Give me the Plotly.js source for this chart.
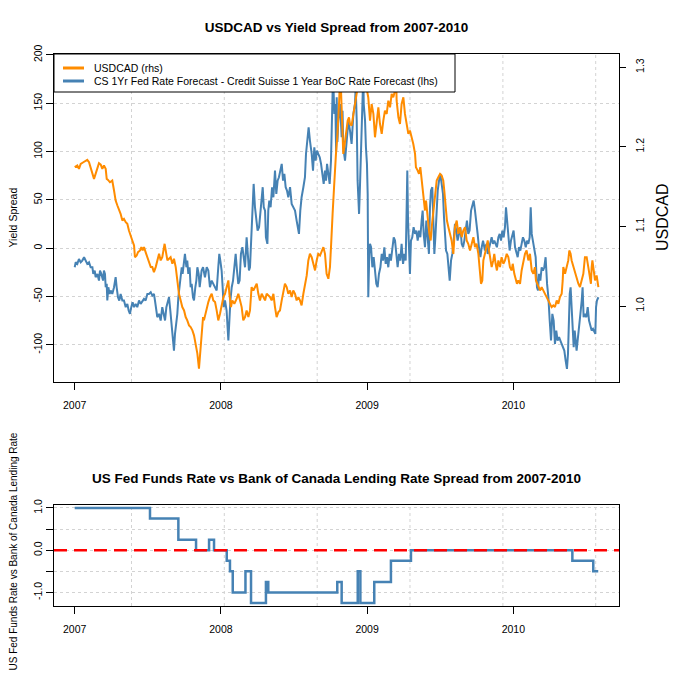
<!DOCTYPE html>
<html><head><meta charset="utf-8">
<script src="https://cdn.plot.ly/plotly-3.0.1.min.js"></script>
<style>html,body{margin:0;padding:0;background:#fff;}#chart{width:673px;height:673px;}</style>
</head><body><div id="chart"></div>
<script>
// ---------- data ----------
const YEAR_TICKS = [2007, 2008, 2009, 2010];
const YEAR_LABELS = ['2007', '2008', '2009', '2010'];
const GRID_X = [2007.3885, 2008.0233, 2008.6587, 2009.2934, 2009.9289, 2010.5636];
const SPREAD_TICKS = [-100, -50, 0, 50, 100, 150, 200];
const SPREAD_LABELS = ['-100', '-50', '0', '50', '100', '150', '200'];
const USDCAD_TICKS = [1.0, 1.1, 1.2, 1.3];
const USDCAD_LABELS = ['1.0', '1.1', '1.2', '1.3'];
const RATE_TICKS = [-1, -0.5, 0, 0.5, 1];
const RATE_LABELS = ['-1.0', '', '0.0', '', '1.0'];
const RATE_ZERO = 0;

const USDCAD_X = [
2007.000,2007.018,2007.029,2007.041,2007.059,2007.075,2007.086,2007.098,2007.109,2007.121,
2007.132,2007.143,2007.155,2007.166,2007.178,2007.189,2007.200,2007.212,2007.219,2007.228,
2007.241,2007.257,2007.269,2007.280,2007.292,2007.303,2007.314,2007.326,2007.337,2007.349,
2007.360,2007.371,2007.383,2007.394,2007.406,2007.412,2007.424,2007.433,2007.447,2007.456,
2007.465,2007.474,2007.485,2007.497,2007.508,2007.520,2007.531,2007.542,2007.554,2007.565,
2007.577,2007.588,2007.599,2007.615,2007.624,2007.634,2007.645,2007.656,2007.668,2007.679,
2007.691,2007.697,2007.707,2007.713,2007.725,2007.736,2007.748,2007.759,2007.770,2007.782,
2007.793,2007.805,2007.816,2007.827,2007.839,2007.850,2007.862,2007.868,2007.878,2007.884,
2007.896,2007.905,2007.914,2007.925,2007.937,2007.948,2007.960,2007.971,2007.982,2007.994,
2008.005,2008.017,2008.028,2008.039,2008.051,2008.058,2008.069,2008.078,2008.092,2008.108,
2008.119,2008.131,2008.142,2008.153,2008.165,2008.176,2008.188,2008.199,2008.210,2008.222,
2008.233,2008.245,2008.256,2008.267,2008.279,2008.290,2008.302,2008.313,2008.324,2008.336,
2008.347,2008.359,2008.370,2008.381,2008.393,2008.404,2008.416,2008.427,2008.438,2008.450,
2008.461,2008.473,2008.484,2008.495,2008.507,2008.518,2008.530,2008.541,2008.552,2008.564,
2008.575,2008.587,2008.598,2008.609,2008.621,2008.632,2008.644,2008.655,2008.666,2008.678,
2008.689,2008.701,2008.712,2008.723,2008.735,2008.746,2008.753,2008.758,2008.764,2008.774,
2008.780,2008.787,2008.796,2008.803,2008.808,2008.817,2008.826,2008.837,2008.844,2008.853,
2008.867,2008.876,2008.883,2008.894,2008.906,2008.917,2008.929,2008.940,2008.963,2008.986,
2009.008,2009.020,2009.031,2009.043,2009.054,2009.065,2009.077,2009.088,2009.100,2009.111,
2009.122,2009.134,2009.145,2009.157,2009.168,2009.179,2009.191,2009.198,2009.202,2009.214,
2009.225,2009.236,2009.248,2009.259,2009.271,2009.282,2009.293,2009.305,2009.316,2009.328,
2009.334,2009.346,2009.355,2009.364,2009.373,2009.382,2009.389,2009.396,2009.403,2009.410,
2009.419,2009.426,2009.435,2009.442,2009.453,2009.464,2009.476,2009.487,2009.499,2009.510,
2009.521,2009.528,2009.537,2009.546,2009.556,2009.567,2009.578,2009.590,2009.601,2009.613,
2009.624,2009.635,2009.647,2009.658,2009.670,2009.681,2009.692,2009.704,2009.715,2009.727,
2009.738,2009.749,2009.761,2009.768,2009.779,2009.788,2009.795,2009.806,2009.818,2009.825,
2009.834,2009.841,2009.852,2009.863,2009.870,2009.879,2009.888,2009.898,2009.909,2009.920,
2009.932,2009.943,2009.955,2009.966,2009.977,2009.989,2009.996,2010.007,2010.016,2010.025,
2010.034,2010.046,2010.057,2010.069,2010.080,2010.091,2010.103,2010.114,2010.126,2010.137,
2010.148,2010.155,2010.164,2010.171,2010.183,2010.194,2010.205,2010.217,2010.228,2010.240,
2010.251,2010.262,2010.274,2010.285,2010.297,2010.308,2010.319,2010.331,2010.338,2010.342,
2010.354,2010.365,2010.376,2010.383,2010.392,2010.399,2010.411,2010.422,2010.433,2010.445,
2010.456,2010.468,2010.479,2010.490,2010.502,2010.513,2010.525,2010.531,2010.536,2010.541,
2010.550,2010.559,2010.570,2010.582];
const USDCAD_Y = [
1.1744,1.1765,1.1723,1.1785,1.1806,1.1827,1.1836,1.1806,1.1744,1.1681,
1.1597,1.1660,1.1744,1.1794,1.1777,1.1723,1.1765,1.1723,1.1597,1.1585,
1.1555,1.1576,1.1451,1.1325,1.1263,1.1221,1.1158,1.1074,1.1095,1.1054,
1.1033,1.0949,1.0865,1.0824,1.0761,1.0614,1.0635,1.0677,1.0698,1.0740,
1.0698,1.0740,1.0677,1.0614,1.0552,1.0489,1.0489,1.0426,1.0489,1.0573,
1.0656,1.0573,1.0614,1.0782,1.0698,1.0573,1.0594,1.0614,1.0531,1.0594,
1.0489,1.0405,1.0280,1.0154,1.0071,0.9987,0.9945,0.9862,0.9820,0.9757,
0.9736,0.9694,0.9632,0.9527,0.9402,0.9213,0.9485,0.9694,0.9862,0.9820,
0.9924,0.9987,1.0050,1.0112,1.0154,1.0071,1.0050,0.9945,0.9820,0.9903,
0.9987,1.0112,1.0154,1.0238,1.0322,1.0154,0.9987,1.0071,1.0029,1.0092,
1.0154,1.0071,0.9987,0.9820,0.9862,0.9945,0.9862,0.9945,1.0238,1.0196,
1.0238,1.0280,1.0154,1.0071,1.0154,1.0112,1.0071,1.0154,1.0133,1.0112,
1.0071,1.0154,0.9987,0.9862,0.9924,0.9945,1.0071,1.0196,1.0280,1.0238,
1.0154,1.0196,1.0112,1.0196,1.0154,1.0071,1.0112,1.0071,1.0008,1.0154,
1.0280,1.0384,1.0573,1.0656,1.0614,1.0531,1.0447,1.0573,1.0656,1.0635,
1.0698,1.0740,1.0656,1.0405,1.0343,1.0489,1.0740,1.0991,1.1158,1.1493,
1.1744,1.1911,1.2120,1.2329,1.2538,1.2950,1.2455,1.1911,1.1995,1.2120,
1.2329,1.2371,1.2287,1.2266,1.2413,1.2580,1.2664,1.2800,1.2900,1.2850,
1.2620,1.2329,1.2538,1.2413,1.2120,1.2329,1.2496,1.2287,1.2162,1.2329,
1.2455,1.2413,1.2580,1.2496,1.2664,1.2622,1.2706,1.2950,1.2580,1.2371,
1.2287,1.2538,1.2622,1.2413,1.2245,1.2162,1.2204,1.2120,1.2036,1.1911,
1.1744,1.1702,1.1660,1.1744,1.1576,1.1451,1.1242,1.1200,1.1325,1.1158,
1.1033,1.0907,1.0824,1.0991,1.1200,1.1409,1.1576,1.1618,1.1660,1.1639,
1.1576,1.1451,1.1200,1.1074,1.0991,1.0907,1.0824,1.0656,1.0991,1.1074,
1.0907,1.0991,1.0865,1.0949,1.0991,1.0824,1.0782,1.0698,1.0782,1.0865,
1.0740,1.0782,1.0656,1.0489,1.0280,1.0322,1.0573,1.0656,1.0740,1.0824,
1.0698,1.0614,1.0489,1.0573,1.0656,1.0531,1.0447,1.0573,1.0489,1.0614,
1.0531,1.0573,1.0656,1.0614,1.0489,1.0447,1.0531,1.0405,1.0322,1.0280,
1.0322,1.0280,1.0447,1.0573,1.0656,1.0698,1.0573,1.0656,1.0447,1.0405,
1.0489,1.0322,1.0280,1.0238,1.0196,1.0238,1.0196,1.0154,1.0112,1.0071,
1.0029,0.9987,1.0008,0.9987,1.0071,1.0029,1.0112,1.0154,1.0322,1.0489,
1.0405,1.0489,1.0573,1.0698,1.0656,1.0573,1.0489,1.0405,1.0363,1.0280,
1.0238,1.0322,1.0405,1.0614,1.0614,1.0489,1.0322,1.0280,1.0489,1.0573,
1.0447,1.0322,1.0384,1.0238];

const SPREAD_X = [
2007.000,2007.007,2007.018,2007.029,2007.041,2007.052,2007.064,2007.075,2007.086,2007.098,
2007.109,2007.121,2007.127,2007.137,2007.143,2007.155,2007.166,2007.173,2007.182,2007.194,
2007.200,2007.207,2007.212,2007.219,2007.223,2007.230,2007.239,2007.246,2007.257,2007.269,
2007.280,2007.287,2007.296,2007.305,2007.314,2007.326,2007.337,2007.349,2007.360,2007.369,
2007.378,2007.387,2007.396,2007.406,2007.417,2007.428,2007.440,2007.451,2007.463,2007.474,
2007.485,2007.497,2007.508,2007.520,2007.531,2007.542,2007.549,2007.558,2007.565,2007.577,
2007.588,2007.599,2007.611,2007.618,2007.627,2007.636,2007.645,2007.654,2007.663,2007.670,
2007.679,2007.686,2007.693,2007.702,2007.709,2007.716,2007.725,2007.732,2007.738,2007.748,
2007.754,2007.764,2007.770,2007.777,2007.786,2007.793,2007.800,2007.809,2007.816,2007.825,
2007.832,2007.839,2007.848,2007.855,2007.862,2007.868,2007.878,2007.884,2007.891,2007.903,
2007.914,2007.925,2007.937,2007.948,2007.960,2007.971,2007.982,2007.989,2007.996,2008.005,
2008.012,2008.019,2008.028,2008.039,2008.051,2008.058,2008.065,2008.074,2008.083,2008.092,
2008.101,2008.110,2008.119,2008.128,2008.137,2008.147,2008.156,2008.165,2008.176,2008.183,
2008.192,2008.199,2008.206,2008.215,2008.224,2008.233,2008.242,2008.251,2008.261,2008.270,
2008.279,2008.286,2008.293,2008.302,2008.308,2008.318,2008.324,2008.331,2008.340,2008.350,
2008.359,2008.370,2008.379,2008.388,2008.397,2008.407,2008.416,2008.425,2008.434,2008.443,
2008.452,2008.461,2008.473,2008.484,2008.495,2008.507,2008.518,2008.525,2008.534,2008.543,
2008.552,2008.564,2008.575,2008.582,2008.591,2008.600,2008.609,2008.621,2008.630,2008.639,
2008.648,2008.657,2008.666,2008.676,2008.685,2008.694,2008.703,2008.712,2008.719,2008.726,
2008.735,2008.744,2008.753,2008.760,2008.767,2008.776,2008.783,2008.788,2008.792,2008.797,
2008.803,2008.815,2008.826,2008.832,2008.837,2008.849,2008.860,2008.872,2008.883,2008.894,
2008.906,2008.917,2008.922,2008.929,2008.935,2008.945,2008.951,2008.958,2008.963,2008.970,
2008.974,2008.977,2008.986,2008.992,2008.999,2009.004,2009.008,2009.015,2009.020,2009.027,
2009.036,2009.045,2009.054,2009.063,2009.072,2009.081,2009.091,2009.100,2009.109,2009.118,
2009.127,2009.136,2009.145,2009.154,2009.163,2009.173,2009.182,2009.191,2009.200,2009.209,
2009.218,2009.227,2009.236,2009.246,2009.255,2009.264,2009.271,2009.275,2009.280,2009.287,
2009.293,2009.300,2009.309,2009.318,2009.328,2009.337,2009.346,2009.355,2009.364,2009.373,
2009.380,2009.387,2009.396,2009.405,2009.414,2009.423,2009.430,2009.437,2009.446,2009.453,
2009.460,2009.467,2009.474,2009.483,2009.492,2009.501,2009.510,2009.519,2009.526,2009.533,
2009.540,2009.549,2009.556,2009.565,2009.574,2009.583,2009.592,2009.601,2009.610,2009.619,
2009.629,2009.638,2009.647,2009.656,2009.665,2009.674,2009.683,2009.692,2009.701,2009.711,
2009.720,2009.729,2009.738,2009.747,2009.756,2009.765,2009.775,2009.784,2009.793,2009.806,
2009.816,2009.825,2009.834,2009.843,2009.852,2009.861,2009.870,2009.879,2009.888,2009.898,
2009.907,2009.916,2009.925,2009.934,2009.943,2009.950,2009.957,2009.966,2009.975,2009.984,
2009.993,2010.002,2010.012,2010.021,2010.030,2010.039,2010.048,2010.057,2010.066,2010.075,
2010.085,2010.094,2010.103,2010.112,2010.119,2010.126,2010.135,2010.144,2010.153,2010.162,
2010.169,2010.176,2010.185,2010.194,2010.203,2010.212,2010.221,2010.231,2010.240,2010.249,
2010.258,2010.267,2010.276,2010.285,2010.294,2010.303,2010.313,2010.322,2010.331,2010.340,
2010.349,2010.358,2010.367,2010.374,2010.381,2010.386,2010.392,2010.399,2010.406,2010.413,
2010.420,2010.427,2010.433,2010.440,2010.449,2010.459,2010.468,2010.474,2010.481,2010.490,
2010.500,2010.509,2010.518,2010.527,2010.536,2010.545,2010.554,2010.561,2010.566,2010.572,
2010.582];
const SPREAD_Y = [
-19.7,-14.5,-16.2,-11.1,-14.5,-12.8,-9.3,-12.8,-16.2,-14.5,
-19.7,-19.7,-26.6,-23.1,-30.0,-26.6,-33.5,-23.1,-26.6,-33.5,
-23.1,-26.6,-40.4,-36.9,-54.1,-40.4,-47.3,-43.8,-47.3,-40.4,
-30.0,-40.4,-50.7,-54.1,-47.3,-54.1,-54.1,-61.0,-57.6,-64.5,
-67.9,-61.0,-55.9,-61.0,-57.6,-61.0,-54.1,-57.6,-54.1,-52.4,
-54.1,-47.3,-47.3,-45.5,-49.0,-47.3,-54.1,-64.5,-71.4,-67.9,
-74.8,-61.0,-67.9,-74.8,-61.0,-54.1,-50.7,-64.5,-81.7,-95.5,
-105.9,-88.6,-81.7,-67.9,-50.7,-40.4,-30.0,-19.7,-26.6,-9.3,
-5.9,-19.7,-12.8,-26.6,-19.7,-40.4,-36.9,-50.7,-54.1,-40.4,
-33.5,-19.7,-26.6,-40.4,-33.5,-23.1,-19.7,-26.6,-30.0,-19.7,
-23.1,-40.4,-33.5,-36.9,-40.4,-43.8,-19.7,-5.9,-12.8,-23.1,
-40.4,-61.0,-54.1,-64.5,-95.5,-67.9,-54.1,-40.4,-33.5,-19.7,
-5.9,-23.1,-36.9,-33.5,-5.9,1.0,-12.8,-19.7,11.3,-2.4,
-23.1,-19.7,7.9,35.5,66.5,42.4,32.0,18.2,21.7,38.9,
49.3,63.1,42.4,38.9,11.3,4.5,38.9,49.3,42.4,63.1,
52.7,80.3,56.2,69.9,73.4,80.3,87.2,69.9,76.8,63.1,
59.6,52.7,63.1,45.8,42.4,38.9,28.6,21.7,14.8,38.9,
52.7,63.1,73.4,97.5,114.8,125.1,111.3,97.5,80.3,104.4,
90.6,101.0,97.5,94.1,87.2,76.8,66.5,80.3,69.9,87.2,
76.8,66.5,90.6,152.7,180.2,138.9,149.2,100.0,156.1,110.0,
132.0,149.2,114.8,142.3,104.4,90.6,114.8,132.0,121.7,107.9,
138.9,149.2,166.5,132.0,69.9,35.5,63.1,97.5,132.0,156.1,
180.2,149.2,132.0,104.4,87.2,56.2,-50.7,-5.9,4.5,1.0,
-19.7,-9.3,-26.6,-36.9,-40.4,-26.6,-19.7,-5.9,-12.8,1.0,
-16.2,-9.3,-19.7,-5.9,-12.8,1.0,11.3,7.9,-5.9,-19.7,
-5.9,-12.8,4.5,-16.2,-5.9,-12.8,45.8,80.3,28.6,-19.7,
-26.6,7.9,11.3,21.7,14.8,18.2,7.9,18.2,11.3,28.6,
38.9,14.8,1.0,28.6,7.9,-5.9,42.4,59.6,63.1,21.7,
-5.9,11.3,42.4,59.6,69.9,76.8,66.5,56.2,32.0,7.9,
-2.4,-5.9,-19.7,-33.5,-12.8,-5.9,7.9,25.1,18.2,7.9,
14.8,21.7,4.5,1.0,7.9,21.7,28.6,14.8,18.2,38.9,
45.8,49.3,38.9,28.6,14.8,1.0,-9.3,1.0,7.9,-2.4,
4.5,-5.9,1.0,7.9,11.3,4.5,7.9,4.5,1.0,11.3,
14.8,7.9,18.2,11.3,21.7,42.4,28.6,7.9,-2.4,7.9,
14.8,18.2,1.0,-5.9,-9.3,1.0,-2.4,4.5,11.3,7.9,
1.0,7.9,4.5,11.3,42.4,14.8,7.9,1.0,-9.3,-40.4,
-43.8,-26.6,-33.5,-19.7,-23.1,-19.7,-9.3,-36.9,-50.7,-74.8,
-95.5,-67.9,-74.8,-99.0,-85.2,-95.5,-92.1,-95.5,-99.0,-102.4,
-105.9,-116.2,-124.8,-109.3,-61.0,-47.3,-40.4,-61.0,-92.1,-102.4,
-85.2,-99.0,-105.9,-95.5,-85.2,-67.9,-54.1,-40.4,-71.4,-67.9,
-71.4,-61.0,-74.8,-81.7,-85.2,-83.5,-86.9,-88.6,-61.0,-54.1,
-50.7];

const RATE_X = [2007.000, 2007.515, 2007.709, 2007.830, 2007.919, 2007.953, 2008.040, 2008.062, 2008.081,
  2008.168, 2008.206, 2008.308, 2008.324, 2008.796, 2008.826, 2008.936, 2008.954, 2009.049, 2009.163,
  2009.300, 2010.404, 2010.547, 2010.581];
const RATE_Y = [1.0, 0.75, 0.25, 0.0, 0.25, 0.0, -0.25, -0.5, -1.0,
  -0.5, -1.25, -0.75, -1.0, -0.75, -1.25, -0.5, -1.25, -0.75, -0.25,
  0.0, -0.25, -0.5, -0.5];

const NAME_USDCAD = 'USDCAD (rhs)';
const NAME_SPREAD = 'CS 1Yr Fed Rate Forecast - Credit Suisse 1 Year BoC Rate Forecast (lhs)';
const COLOR_USDCAD = '#FF8C00';
const COLOR_SPREAD = '#4682B4';

// ---------- layout helpers ----------
const FONT = 'Liberation Sans, Arial, Helvetica, sans-serif';
const W = 673, H = 673;
const M = {l: 54, r: 54, t: 54, b: 67};
const PH = H - M.t - M.b, PW = W - M.l - M.r;
const py = p => (H - M.b - p) / PH;   // pixel row -> paper y
const px = p => (p - M.l) / PW;       // pixel col -> paper x
const X_RANGE = [2006.8584, 2010.7230];

const axisBase = {
  showline: true, mirror: true, linecolor: '#000', linewidth: 1,
  ticks: 'outside', tickcolor: '#000', tickwidth: 1, zeroline: false,
  tickfont: {family: FONT, size: 10.5, color: '#000'}, fixedrange: true
};
const gridStyle = {showgrid: true, gridcolor: '#d3d3d3', gridwidth: 1, griddash: 'dot'};

const traces = [
  {x: SPREAD_X, y: SPREAD_Y, xaxis: 'x', yaxis: 'y', type: 'scatter', mode: 'lines',
   name: NAME_SPREAD, line: {color: COLOR_SPREAD, width: 2}, showlegend: false},
  {x: USDCAD_X, y: USDCAD_Y, xaxis: 'x', yaxis: 'y3', type: 'scatter', mode: 'lines',
   name: NAME_USDCAD, line: {color: COLOR_USDCAD, width: 2}, showlegend: false},
  {x: RATE_X, y: RATE_Y, xaxis: 'x2', yaxis: 'y2', type: 'scatter', mode: 'lines',
   line: {color: COLOR_SPREAD, width: 2.5, shape: 'hv'}, showlegend: false}
];

const shapes = [];
GRID_X.forEach(g => {
  shapes.push({type: 'line', xref: 'x', yref: 'y domain', x0: g, x1: g, y0: 0, y1: 1, layer: 'below',
    line: {color: '#d3d3d3', width: 1, dash: 'dot'}});
  shapes.push({type: 'line', xref: 'x2', yref: 'y2 domain', x0: g, x1: g, y0: 0, y1: 1, layer: 'below',
    line: {color: '#d3d3d3', width: 1, dash: 'dot'}});
});
shapes.push({type: 'line', xref: 'x2 domain', yref: 'y2', x0: 0, x1: 1, y0: RATE_ZERO, y1: RATE_ZERO,
  layer: 'above', line: {color: '#ff0000', width: 2.5, dash: '13px,7px'}});

// compact R-style legend box (top-left of the upper panel)
const LEGEND = [{name: NAME_USDCAD, color: COLOR_USDCAD, row: 68}, {name: NAME_SPREAD, color: COLOR_SPREAD, row: 81}];
shapes.push({type: 'rect', xref: 'paper', yref: 'paper', x0: px(54), x1: px(455), y0: py(92), y1: py(54),
  layer: 'above', fillcolor: '#fff', line: {color: '#000', width: 1}});
const annotations = [];
LEGEND.forEach(it => {
  shapes.push({type: 'line', xref: 'paper', yref: 'paper', x0: px(63), x1: px(84), y0: py(it.row), y1: py(it.row),
    layer: 'above', line: {color: it.color, width: 3}});
  annotations.push({text: it.name, xref: 'paper', yref: 'paper', x: px(92), y: py(it.row), xanchor: 'left',
    yanchor: 'middle', showarrow: false, font: {family: FONT, size: 10.5, color: '#000'}});
});

annotations.push(
  {text: '<b>US Fed Funds Rate vs Bank of Canada Lending Rate Spread from 2007-2010</b>',
   xref: 'paper', yref: 'paper', x: 0.5, y: py(478), xanchor: 'center', yanchor: 'middle',
   showarrow: false, font: {family: FONT, size: 13.5, color: '#000'}},
  {text: 'Yield Spread', xref: 'paper', yref: 'paper', x: px(12.5), y: py(218), textangle: -90,
   xanchor: 'center', yanchor: 'middle', showarrow: false, font: {family: FONT, size: 10.5, color: '#000'}},
  {text: 'USDCAD', xref: 'paper', yref: 'paper', x: px(662), y: py(217), textangle: -90,
   xanchor: 'center', yanchor: 'middle', showarrow: false, font: {family: FONT, size: 16, color: '#000'}},
  {text: 'US Fed Funds Rate vs Bank of Canada Lending Rate', xref: 'paper', yref: 'paper',
   x: px(12.5), y: py(552), textangle: -90, xanchor: 'center', yanchor: 'middle', showarrow: false,
   font: {family: FONT, size: 10, color: '#000'}}
);

const layout = {
  width: W, height: H, margin: M, paper_bgcolor: '#fff', plot_bgcolor: '#fff',
  font: {family: FONT, color: '#000'}, hovermode: false, showlegend: false,
  title: {text: '<b>USDCAD vs Yield Spread from 2007-2010</b>', font: {family: FONT, size: 13.5, color: '#000'},
    x: 0.5, xref: 'paper', xanchor: 'center', y: 1 - 27 / H, yref: 'container', yanchor: 'middle'},
  xaxis: Object.assign({}, axisBase, {domain: [0, 1], anchor: 'y', range: X_RANGE,
    tickmode: 'array', tickvals: YEAR_TICKS, ticktext: YEAR_LABELS, ticklen: 7, showgrid: false, ticklabelstandoff: 6}),
  yaxis: Object.assign({}, axisBase, gridStyle, {domain: [py(382), 1], anchor: 'x', range: [-138.4, 200.9],
    tickmode: 'array', tickvals: SPREAD_TICKS, ticktext: SPREAD_LABELS, ticklen: 7, tickangle: -90}),
  yaxis3: Object.assign({}, axisBase, {overlaying: 'y', side: 'right', anchor: 'x', showline: false,
    range: [0.9046, 1.3166], tickmode: 'array', tickvals: USDCAD_TICKS, ticktext: USDCAD_LABELS,
    ticklen: 6, tickangle: -90, showgrid: false, ticklabelstandoff: 5}),
  xaxis2: Object.assign({}, axisBase, {domain: [0, 1], anchor: 'y2', range: X_RANGE,
    tickmode: 'array', tickvals: YEAR_TICKS, ticktext: YEAR_LABELS, ticklen: 7, showgrid: false, ticklabelstandoff: 6}),
  yaxis2: Object.assign({}, axisBase, gridStyle, {domain: [0, py(505)], anchor: 'x2', range: [-1.32, 1.07],
    tickmode: 'array', tickvals: RATE_TICKS, ticktext: RATE_LABELS, ticklen: 7, tickangle: -90}),
  shapes: shapes,
  annotations: annotations
};

Plotly.newPlot('chart', traces, layout, {displayModeBar: false, staticPlot: true});
</script>
</body></html>
